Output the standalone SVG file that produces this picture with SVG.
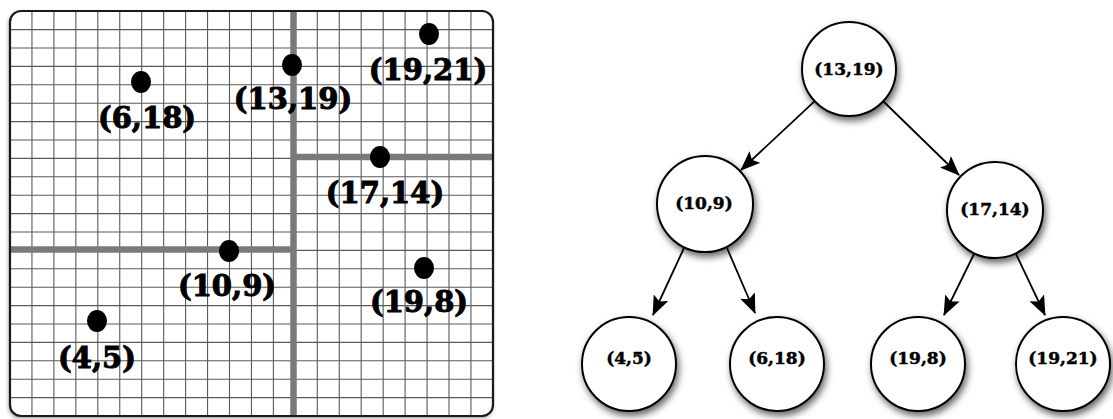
<svg xmlns="http://www.w3.org/2000/svg" width="1113" height="419" viewBox="0 0 1113 419">
<style>
.grid line{stroke:#5a5a5a;stroke-width:1.1}
.part{stroke:#7a7a7a;stroke-width:6.5;stroke-linecap:butt}
.dot{fill:#000}
.plabel{font-family:"DejaVu Serif","Liberation Serif",serif;font-weight:bold;font-size:29px;fill:#000;stroke:#000;stroke-width:1;text-anchor:middle}
.node circle{fill:#fff;stroke:#000;stroke-width:2;filter:url(#sh)}
.node text{font-family:"DejaVu Serif","Liberation Serif",serif;font-weight:bold;font-size:17px;fill:#000;stroke:#000;stroke-width:0.5;text-anchor:middle}
.edge{stroke:#000;stroke-width:1.8;fill:none;marker-end:url(#arr)}
</style>
<defs>
<filter id="sh" x="-30%" y="-30%" width="160%" height="170%">
<feDropShadow dx="2" dy="4" stdDeviation="3.5" flood-color="#000" flood-opacity="0.6"/>
</filter>
<filter id="bsh" x="-5%" y="-5%" width="110%" height="110%">
<feDropShadow dx="-1" dy="2" stdDeviation="2" flood-color="#000" flood-opacity="0.45"/>
</filter>
<marker id="arr" viewBox="0 0 20 16" refX="19" refY="8" markerWidth="20" markerHeight="16" markerUnits="userSpaceOnUse" orient="auto">
<path d="M0,0 L20,8 L0,16 L4,8 z" fill="#000"/>
</marker>
</defs>
<rect width="1113" height="419" fill="#fff"/>
<g id="plot">
<rect x="10" y="11" width="483" height="405" rx="11" fill="#fff" filter="url(#bsh)"/>
<g class="grid">
<line x1="31.95" y1="11" x2="31.95" y2="416"/>
<line x1="53.9" y1="11" x2="53.9" y2="416"/>
<line x1="75.85" y1="11" x2="75.85" y2="416"/>
<line x1="97.8" y1="11" x2="97.8" y2="416"/>
<line x1="119.75" y1="11" x2="119.75" y2="416"/>
<line x1="141.7" y1="11" x2="141.7" y2="416"/>
<line x1="163.65" y1="11" x2="163.65" y2="416"/>
<line x1="185.6" y1="11" x2="185.6" y2="416"/>
<line x1="207.55" y1="11" x2="207.55" y2="416"/>
<line x1="229.5" y1="11" x2="229.5" y2="416"/>
<line x1="251.45" y1="11" x2="251.45" y2="416"/>
<line x1="273.4" y1="11" x2="273.4" y2="416"/>
<line x1="317.3" y1="11" x2="317.3" y2="416"/>
<line x1="339.25" y1="11" x2="339.25" y2="416"/>
<line x1="361.2" y1="11" x2="361.2" y2="416"/>
<line x1="383.15" y1="11" x2="383.15" y2="416"/>
<line x1="405.1" y1="11" x2="405.1" y2="416"/>
<line x1="427.05" y1="11" x2="427.05" y2="416"/>
<line x1="449" y1="11" x2="449" y2="416"/>
<line x1="470.95" y1="11" x2="470.95" y2="416"/>
<line x1="10" y1="397.6" x2="493" y2="397.6"/>
<line x1="10" y1="379.2" x2="493" y2="379.2"/>
<line x1="10" y1="360.8" x2="493" y2="360.8"/>
<line x1="10" y1="342.4" x2="493" y2="342.4"/>
<line x1="10" y1="324" x2="493" y2="324"/>
<line x1="10" y1="305.6" x2="493" y2="305.6"/>
<line x1="10" y1="287.2" x2="493" y2="287.2"/>
<line x1="10" y1="268.8" x2="493" y2="268.8"/>
<line x1="10" y1="250.4" x2="493" y2="250.4"/>
<line x1="10" y1="232" x2="493" y2="232"/>
<line x1="10" y1="213.6" x2="493" y2="213.6"/>
<line x1="10" y1="195.2" x2="493" y2="195.2"/>
<line x1="10" y1="176.8" x2="493" y2="176.8"/>
<line x1="10" y1="158.4" x2="493" y2="158.4"/>
<line x1="10" y1="140" x2="493" y2="140"/>
<line x1="10" y1="121.6" x2="493" y2="121.6"/>
<line x1="10" y1="103.2" x2="493" y2="103.2"/>
<line x1="10" y1="84.8" x2="493" y2="84.8"/>
<line x1="10" y1="66.4" x2="493" y2="66.4"/>
<line x1="10" y1="48" x2="493" y2="48"/>
<line x1="10" y1="29.6" x2="493" y2="29.6"/>
</g>
<line class="part" x1="293.5" y1="11" x2="293.5" y2="416"/>
<line class="part" x1="10" y1="249.5" x2="293.5" y2="249.5"/>
<line class="part" x1="293.5" y1="157" x2="493" y2="157"/>
<rect x="10" y="11" width="483" height="405" rx="11" fill="none" stroke="#1a1a1a" stroke-width="2.2"/>
</g>
<g id="p-13-19"><ellipse class="dot" cx="292" cy="65" rx="10" ry="11"/><text class="plabel" x="293" y="109">(13,19)</text></g>
<g id="p-19-21"><ellipse class="dot" cx="429" cy="34" rx="10" ry="11"/><text class="plabel" x="428" y="80">(19,21)</text></g>
<g id="p-6-18"><ellipse class="dot" cx="141" cy="82" rx="10" ry="11"/><text class="plabel" x="147" y="128">(6,18)</text></g>
<g id="p-17-14"><ellipse class="dot" cx="380" cy="157" rx="10" ry="11"/><text class="plabel" x="385" y="203">(17,14)</text></g>
<g id="p-10-9"><ellipse class="dot" cx="229" cy="251" rx="10" ry="11"/><text class="plabel" x="227" y="296">(10,9)</text></g>
<g id="p-19-8"><ellipse class="dot" cx="424" cy="268" rx="10" ry="11"/><text class="plabel" x="419" y="312">(19,8)</text></g>
<g id="p-4-5"><ellipse class="dot" cx="97" cy="321" rx="10" ry="11"/><text class="plabel" x="97" y="368">(4,5)</text></g>
<g id="connectors">
<line class="edge" x1="814.7" y1="101.1" x2="741" y2="170"/>
<line class="edge" x1="883" y1="101" x2="959" y2="175"/>
<line class="edge" x1="684" y1="248" x2="653" y2="315"/>
<line class="edge" x1="727" y1="248" x2="755" y2="313"/>
<line class="edge" x1="974" y1="254" x2="944" y2="315"/>
<line class="edge" x1="1016" y1="254" x2="1045" y2="315"/>
</g>
<g id="n-13-19" class="node"><circle cx="849" cy="69" r="47"/><text x="849" y="75">(13,19)</text></g>
<g id="n-10-9" class="node"><circle cx="705" cy="204" r="48"/><text x="704" y="209">(10,9)</text></g>
<g id="n-17-14" class="node"><circle cx="995" cy="210" r="48"/><text x="995" y="215">(17,14)</text></g>
<g id="n-4-5" class="node"><circle cx="629" cy="364" r="47"/><text x="629" y="364">(4,5)</text></g>
<g id="n-6-18" class="node"><circle cx="777" cy="364" r="47"/><text x="777" y="364">(6,18)</text></g>
<g id="n-19-8" class="node"><circle cx="918" cy="364" r="47"/><text x="918" y="364">(19,8)</text></g>
<g id="n-19-21" class="node"><circle cx="1063" cy="364" r="47"/><text x="1063" y="364">(19,21)</text></g>
</svg>
